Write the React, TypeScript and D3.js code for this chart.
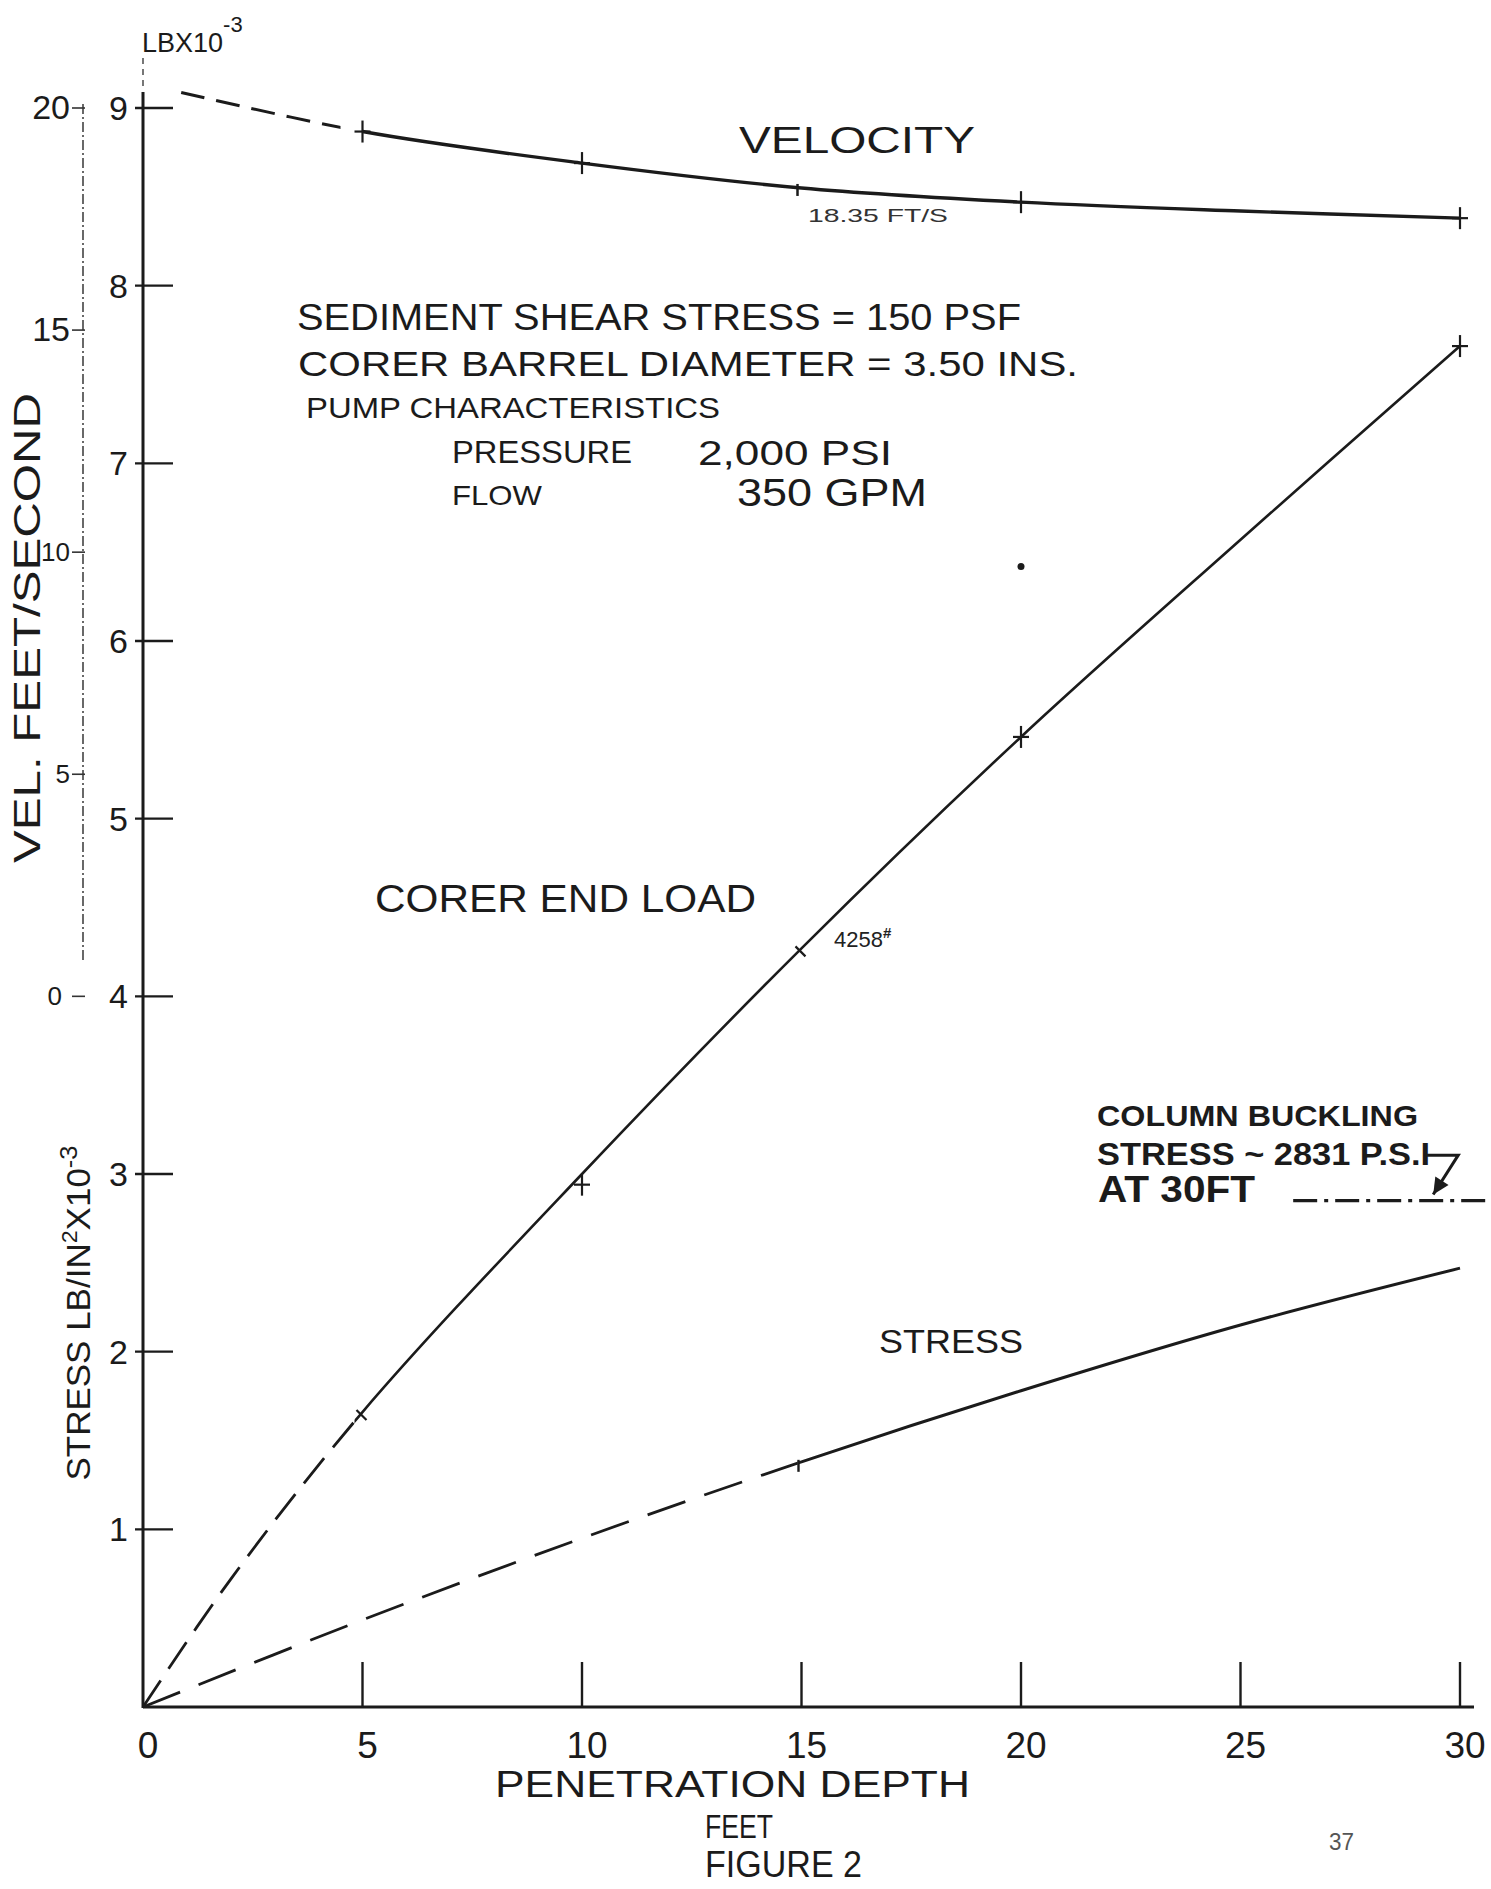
import React from "react";
import * as d3 from "d3";

// ---------- data ----------
const depthTicks = [5, 10, 15, 20, 25, 30];
const depthTickLabels = ["0", "5", "10", "15", "20", "25", "30"];
const depthTickLabelValues = [0, 5, 10, 15, 20, 25, 30];
const loadTicks = [1, 2, 3, 4, 5, 6, 7, 8, 9];
const velTicks = [0, 5, 10, 15, 20];

// velocity, ft/s (inner left scale 0..20)
const velocityDepth = [0.87, 5, 10, 15, 20, 25, 30];
const velocity = [20.35, 19.47, 18.76, 18.2, 17.88, 17.68, 17.52];
const velocityDashedUntil = 5;
const velocityMarkDepth = [5, 10, 20, 30];

// corer end load, lb x 10^3
const loadDepth = [0, 2, 5, 10, 15, 20, 25, 30];
const endLoad = [0, 0.72, 1.66, 3.0, 4.27, 5.46, 6.57, 7.66];
const loadDashedUntil = 5;
const loadMarkDepth = [10, 20, 30];
const loadMarkValue = [2.94, 5.46, 7.66];
const loadTickDepth = [5, 15];

// stress, lb/in^2 x 10^3
const stressDepth = [0, 5, 10, 15, 20, 25, 30];
const stress = [0, 0.49, 0.95, 1.38, 1.78, 2.15, 2.47];
const stressDashedUntil = 15;

// column buckling stress reference
const bucklingStress = 2.85;
const bucklingFrom = 26.2;
const bucklingTo = 30.6;
const arrowDepth = [29.25, 29.96, 29.39];
const arrowValue = [3.106, 3.106, 2.885];

const strayDotDepth = [20];
const strayDotValue = [6.42];

// ---------- layout ----------
const W = 1491;
const H = 1889;
const INK = "#1b1b1b";
const FONT = "'Liberation Sans', Arial, sans-serif";

const x = d3.scaleLinear().domain([0, 30]).range([143, 1460]);
const y = d3.scaleLinear().domain([0, 9]).range([1707, 108]);
const yVel = d3.scaleLinear().domain([0, 20]).range([y(4), y(9)]);

const curve = d3.curveCatmullRom.alpha(0.5);

const velLine = d3
  .line<number>()
  .x((_, i) => x(velocityDepth[i]))
  .y((v) => yVel(v))
  .curve(curve);
const loadLine = d3
  .line<number>()
  .x((_, i) => x(loadDepth[i]))
  .y((v) => y(v))
  .curve(curve);
const stressLine = d3
  .line<number>()
  .x((_, i) => x(stressDepth[i]))
  .y((v) => y(v))
  .curve(curve);

const notes = [
  { t: "VELOCITY", x: 739, y: 153, w: 236, s: 37 },
  { t: "SEDIMENT SHEAR STRESS = 150 PSF", x: 297, y: 330, w: 724, s: 37 },
  { t: "CORER BARREL DIAMETER = 3.50 INS.", x: 298, y: 376, w: 780, s: 35 },
  { t: "PUMP CHARACTERISTICS", x: 306, y: 418, w: 414, s: 30 },
  { t: "PRESSURE", x: 452, y: 463, w: 180, s: 32 },
  { t: "2,000 PSI", x: 698, y: 465, w: 194, s: 35 },
  { t: "FLOW", x: 452, y: 505, w: 90, s: 28 },
  { t: "350 GPM", x: 737, y: 506, w: 190, s: 38 },
  { t: "CORER END LOAD", x: 375, y: 912, w: 381, s: 39 },
  { t: "COLUMN BUCKLING", x: 1097, y: 1126, w: 321, s: 30, b: 600 },
  { t: "STRESS ~ 2831 P.S.I", x: 1097, y: 1165, w: 333, s: 31, b: 600 },
  { t: "AT 30FT", x: 1098, y: 1202, w: 157, s: 36, b: 600 },
  { t: "STRESS", x: 879, y: 1353, w: 144, s: 34 },
  { t: "PENETRATION DEPTH", x: 495, y: 1797, w: 475, s: 36 },
  { t: "FEET", x: 705, y: 1838, w: 68, s: 34 },
  { t: "FIGURE 2", x: 705, y: 1877, w: 157, s: 36 },
];

function Plus({ cx, cy }: { cx: number; cy: number }) {
  return (
    <g stroke={INK} strokeWidth={2.2}>
      <line x1={cx - 8} x2={cx + 8} y1={cy} y2={cy} />
      <line x1={cx} x2={cx} y1={cy - 11} y2={cy + 11} />
    </g>
  );
}

export default function App() {
  const x0 = x(0);
  const y0 = y(0);
  const vPath = velLine(velocity) || "";
  const lPath = loadLine(endLoad) || "";
  const sPath = stressLine(stress) || "";

  // arrow
  const ax = arrowDepth.map((d) => x(d));
  const ay = arrowValue.map((v) => y(v));
  const dx = ax[2] - ax[1];
  const dy = ay[2] - ay[1];
  const len = Math.hypot(dx, dy);
  const ux = dx / len;
  const uy = dy / len;
  const head = (ang: number) => {
    const c = Math.cos(ang);
    const s = Math.sin(ang);
    const bx = -(ux * c - uy * s);
    const by = -(ux * s + uy * c);
    return [ax[2] + bx * 18, ay[2] + by * 18];
  };
  const h1 = head(0.45);
  const h2 = head(-0.45);

  return (
    <svg
      width={W}
      height={H}
      viewBox={`0 0 ${W} ${H}`}
      style={{ position: "absolute", left: 0, top: 0, background: "#ffffff" }}
      fontFamily={FONT}
    >
      <defs>
        <clipPath id="velDash">
          <rect x={0} y={0} width={x(velocityDashedUntil) - 22} height={H} />
        </clipPath>
        <clipPath id="velSolid">
          <rect x={x(velocityDashedUntil)} y={0} width={W} height={H} />
        </clipPath>
        <clipPath id="loadDash">
          <rect x={0} y={0} width={x(loadDashedUntil) - 8} height={H} />
        </clipPath>
        <clipPath id="loadSolid">
          <rect x={x(loadDashedUntil) - 8} y={0} width={W} height={H} />
        </clipPath>
        <clipPath id="stressDash">
          <rect x={0} y={0} width={x(stressDashedUntil) - 4} height={H} />
        </clipPath>
        <clipPath id="stressSolid">
          <rect x={x(stressDashedUntil) - 4} y={0} width={W} height={H} />
        </clipPath>
      </defs>
      <rect x={0} y={0} width={W} height={H} fill="#ffffff" />

      {/* main axes */}
      <line x1={x0} x2={x0} y1={y(9) - 50} y2={y(9) - 18} stroke="#555" strokeWidth={1.6} strokeDasharray="6,5" />
      <line x1={x0} x2={x0} y1={y(9) - 16} y2={y0 + 1} stroke={INK} strokeWidth={3} />
      <line x1={x0} x2={x(30) + 14} y1={y0} y2={y0} stroke={INK} strokeWidth={3} />

      {loadTicks.map((v) => (
        <g key={"lt" + v}>
          <line x1={x0 - 8} x2={x0 + 30} y1={y(v)} y2={y(v)} stroke={INK} strokeWidth={2.4} />
          <text x={128} y={y(v) + 12} fontSize={34} textAnchor="end" fill={INK}>
            {v}
          </text>
        </g>
      ))}

      {depthTicks.map((d) => (
        <line key={"dt" + d} x1={x(d)} x2={x(d)} y1={y0} y2={y0 - 45} stroke={INK} strokeWidth={2.4} />
      ))}
      {depthTickLabelValues.map((d, i) => (
        <text key={"dl" + d} x={x(d) + 5} y={y0 + 51} fontSize={37} textAnchor="middle" fill={INK}>
          {depthTickLabels[i]}
        </text>
      ))}

      {/* velocity auxiliary scale */}
      <line x1={83} x2={83} y1={yVel(20) - 4} y2={yVel(0) - 34} stroke="#444" strokeWidth={1.6} strokeDasharray="10,3,2,3" />
      {velTicks.map((v) => (
        <g key={"vt" + v}>
          <line x1={72} x2={85} y1={yVel(v)} y2={yVel(v)} stroke="#333" strokeWidth={1.6} />
          <text
            x={v === 0 ? 62 : 70}
            y={yVel(v) + (v >= 15 ? 11 : 9)}
            fontSize={v >= 15 ? 34 : 26}
            textAnchor="end"
            fill={INK}
          >
            {v}
          </text>
        </g>
      ))}

      {/* axis titles */}
      <text x={142} y={52} fontSize={27} fill={INK}>
        LBX10
        <tspan dy={-20} fontSize={22}>
          -3
        </tspan>
      </text>
      <text
        transform={`translate(27,628) rotate(-90)`}
        y={13}
        fontSize={37}
        textAnchor="middle"
        fill={INK}
        textLength={470}
        lengthAdjust="spacingAndGlyphs"
      >
        VEL. FEET/SECOND
      </text>
      <text
        transform={`translate(78,1313) rotate(-90)`}
        y={12}
        fontSize={33}
        textAnchor="middle"
        fill={INK}
        textLength={335}
        lengthAdjust="spacingAndGlyphs"
      >
        STRESS LB/IN
        <tspan dy={-13} fontSize={22}>
          2
        </tspan>
        <tspan dy={13}>X10</tspan>
        <tspan dy={-13} fontSize={24}>
          -3
        </tspan>
      </text>

      {/* velocity curve */}
      <path d={vPath} fill="none" stroke={INK} strokeWidth={3} strokeDasharray="24,12" clipPath="url(#velDash)" />
      <path d={vPath} fill="none" stroke={INK} strokeWidth={3.4} clipPath="url(#velSolid)" />
      {velocityMarkDepth.map((d) => (
        <Plus key={"vm" + d} cx={x(d)} cy={yVel(velocity[velocityDepth.indexOf(d)])} />
      ))}
      <line
        x1={x(15) - 4}
        x2={x(15) - 4}
        y1={yVel(velocity[velocityDepth.indexOf(15)]) - 4}
        y2={yVel(velocity[velocityDepth.indexOf(15)]) + 8}
        stroke={INK}
        strokeWidth={2.5}
      />

      {/* corer end load */}
      <path d={lPath} fill="none" stroke={INK} strokeWidth={2.8} strokeDasharray="32,14" clipPath="url(#loadDash)" />
      <path d={lPath} fill="none" stroke={INK} strokeWidth={2.6} clipPath="url(#loadSolid)" />
      {loadMarkDepth.map((d, i) => (
        <Plus key={"lm" + d} cx={x(d)} cy={y(loadMarkValue[i])} />
      ))}
      {loadTickDepth.map((d) => (
        <line
          key={"ltk" + d}
          x1={x(d) - 6}
          x2={x(d) + 4}
          y1={y(endLoad[loadDepth.indexOf(d)]) - 2}
          y2={y(endLoad[loadDepth.indexOf(d)]) + 8}
          stroke={INK}
          strokeWidth={2.2}
        />
      ))}

      {/* stress */}
      <path d={sPath} fill="none" stroke={INK} strokeWidth={2.8} strokeDasharray="40,20" clipPath="url(#stressDash)" />
      <path d={sPath} fill="none" stroke={INK} strokeWidth={3} clipPath="url(#stressSolid)" />
      <line
        x1={x(15) - 3}
        x2={x(15) - 3}
        y1={y(stress[3]) - 2}
        y2={y(stress[3]) + 10}
        stroke={INK}
        strokeWidth={2.4}
      />

      {/* buckling reference */}
      <line
        x1={x(bucklingFrom)}
        x2={x(bucklingTo)}
        y1={y(bucklingStress)}
        y2={y(bucklingStress)}
        stroke={INK}
        strokeWidth={3.4}
        strokeDasharray="24,7,4,7"
      />
      <polyline
        points={ax.map((v, i) => `${v},${ay[i]}`).join(" ")}
        fill="none"
        stroke={INK}
        strokeWidth={3}
      />
      <polygon points={`${ax[2]},${ay[2]} ${h1[0]},${h1[1]} ${h2[0]},${h2[1]}`} fill={INK} />

      {strayDotDepth.map((d, i) => (
        <circle key={"sd" + i} cx={x(d)} cy={y(strayDotValue[i])} r={3.5} fill={INK} />
      ))}

      {/* notes */}
      {notes.map((n, i) => (
        <text
          key={"n" + i}
          x={n.x}
          y={n.y}
          fontSize={n.s}
          fontWeight={n.b || 400}
          fill={INK}
          textLength={n.w}
          lengthAdjust="spacingAndGlyphs"
        >
          {n.t}
        </text>
      ))}
      <text x={808} y={222} fontSize={19} fill="#333" textLength={140} lengthAdjust="spacingAndGlyphs">
        18.35 FT/S
      </text>
      <text x={834} y={947} fontSize={22} fill="#222">
        4258
        <tspan dy={-9} fontSize={15} fontWeight={700}>
          #
        </tspan>
      </text>
      <text x={1329} y={1850} fontSize={24} fill="#555" textLength={25} lengthAdjust="spacingAndGlyphs">
        37
      </text>
    </svg>
  );
}
